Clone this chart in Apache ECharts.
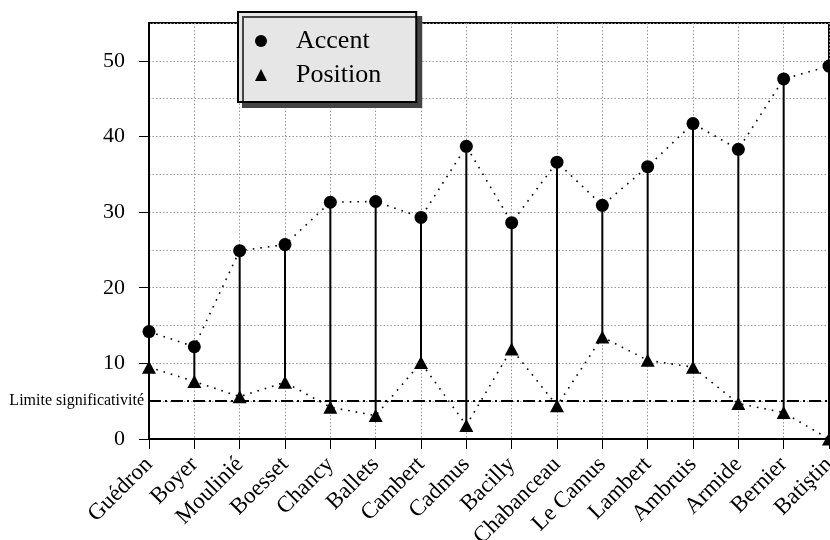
<!DOCTYPE html>
<html>
<head>
<meta charset="utf-8">
<script src="https://cdn.jsdelivr.net/npm/echarts@6/dist/echarts.min.js"></script>
<style>
  html, body { margin: 0; padding: 0; background: #fff; }
  #chart { width: 830px; height: 540px; }
</style>
</head>
<body>
<div id="chart"></div>
<script>
// Composers / sources along the x axis
const categories = ['Guédron', 'Boyer', 'Moulinié', 'Boesset', 'Chancy', 'Ballets', 'Cambert', 'Cadmus',
  'Bacilly', 'Chabanceau', 'Le Camus', 'Lambert', 'Ambruis', 'Armide', 'Bernier', 'Batiştin'];

// Accent scores
const accent = [14.2, 12.2, 24.9, 25.7, 31.3, 31.4, 29.3, 38.7, 28.6, 36.6, 30.9, 36.0, 41.7, 38.3, 47.6, 49.3];

// Position scores
const position = [9.5, 7.6, 5.6, 7.5, 4.2, 3.1, 10.1, 1.8, 11.9, 4.4, 13.5, 10.4, 9.5, 4.7, 3.5, 0];

// Significance threshold
const threshold = 5;
const thresholdLabel = 'Limite significativité';

// Y axis range and label step
const yMin = 0, yMax = 55, yStep = 10;

const serif = 'Liberation Serif';

// Stem segments joining each accent value to its position value
const stems = categories.map((c, i) => [i, position[i], accent[i]]);

const chart = echarts.init(document.getElementById('chart'), null, { renderer: 'canvas' });

chart.setOption({
  animation: false,
  backgroundColor: '#fff',
  grid: {
    left: 149, right: 1, top: 23, bottom: 101,
    outerBoundsMode: 'none',
    containLabel: false,
    show: true, borderColor: '#000', borderWidth: 2, backgroundColor: 'transparent'
  },
  legend: {
    data: [
      { name: 'Accent', icon: 'circle' },
      { name: 'Position', icon: 'triangle' }
    ],
    orient: 'vertical',
    left: 238, top: 12,
    padding: [16, 35, 14, 17],
    itemWidth: 12, itemHeight: 12,
    itemGap: 8,
    backgroundColor: '#e6e6e6',
    borderColor: '#000',
    borderWidth: 2,
    shadowColor: '#444',
    shadowBlur: 0,
    shadowOffsetX: 5,
    shadowOffsetY: 5,
    selectedMode: false,
    textStyle: { fontFamily: serif, fontSize: 26, color: '#000', lineHeight: 26, padding: [0, 0, 0, 24] },
    z: 10
  },
  xAxis: {
    type: 'category',
    data: categories,
    boundaryGap: false,
    axisLine: { lineStyle: { color: '#000', width: 2 } },
    axisTick: { show: true, length: 10, lineStyle: { color: '#000', width: 1 } },
    axisLabel: {
      rotate: 45, fontFamily: serif, fontSize: 23, color: '#000', margin: 22, interval: 0,
      align: 'right', verticalAlign: 'middle'
    },
    splitLine: { show: true, lineStyle: { color: '#999', type: [1.5, 2], width: 1 } }
  },
  yAxis: {
    type: 'value',
    min: yMin, max: yMax, interval: yStep,
    axisLine: { show: true, lineStyle: { color: '#000', width: 2 } },
    axisTick: { show: true, length: 10, lineStyle: { color: '#000', width: 1 } },
    axisLabel: { fontFamily: serif, fontSize: 22, color: '#000', margin: 24, showMaxLabel: false },
    splitLine: { show: true, lineStyle: { color: '#999', type: [1.5, 2], width: 1 } },
    minorTick: { show: false, splitNumber: 2 },
    minorSplitLine: { show: true, lineStyle: { color: '#999', type: [1.5, 2], width: 1 } }
  },
  series: [
    {
      type: 'custom',
      name: 'stems',
      data: stems,
      z: 3,
      silent: true,
      renderItem: function (params, api) {
        const p0 = api.coord([api.value(0), api.value(1)]);
        const p1 = api.coord([api.value(0), api.value(2)]);
        return {
          type: 'line',
          shape: { x1: p0[0], y1: p0[1], x2: p1[0], y2: p1[1] },
          style: { stroke: '#000', lineWidth: 2 }
        };
      }
    },
    {
      type: 'line',
      name: 'Accent',
      data: accent,
      symbol: 'circle',
      symbolSize: 13,
      z: 5,
      itemStyle: { color: '#000' },
      lineStyle: { color: '#000', width: 1.6, type: [1.6, 6] },
      markLine: {
        silent: true,
        symbol: 'none',
        data: [{ yAxis: threshold }],
        lineStyle: { color: '#000', width: 2, type: [12, 4, 2, 4] },
        label: {
          show: true, position: 'start', distance: 5,
          formatter: thresholdLabel,
          fontFamily: serif, fontSize: 16, color: '#000'
        }
      }
    },
    {
      type: 'line',
      name: 'Position',
      data: position,
      symbol: 'triangle',
      symbolSize: [14, 13],
      z: 5,
      itemStyle: { color: '#000' },
      lineStyle: { color: '#000', width: 1.6, type: [1.6, 6] }
    }
  ]
});
</script>
</body>
</html>
